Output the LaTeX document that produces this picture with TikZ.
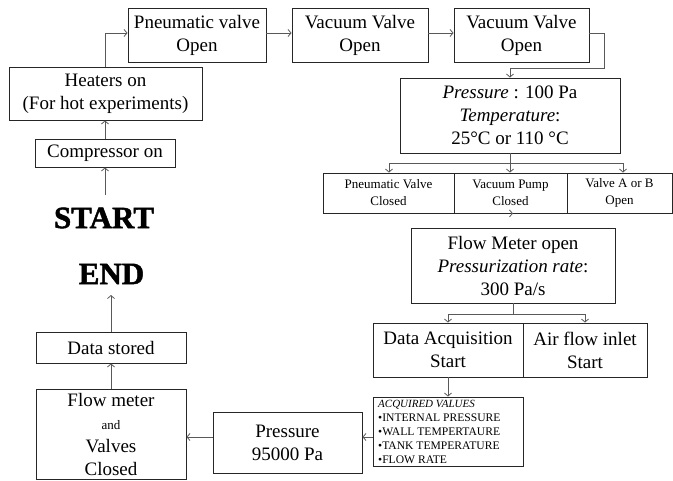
\documentclass[tikz,border=0pt]{standalone}
\usepackage{fontspec}
\setmainfont{Liberation Serif}
\newfontface\heavyface{Liberation Serif Bold}[FakeBold=1.6]
\usetikzlibrary{arrows.meta,calc}
\begin{document}
\begin{tikzpicture}[x=1pt,y=-1pt,
  box/.style={draw=black!85,line width=0.9pt,inner sep=0pt,align=center,minimum width=#1},
  big/.style={font=\fontsize{19}{23}\selectfont},
  mid/.style={font=\fontsize{13}{17}\selectfont},
  arr/.style={draw=black!65,line width=0.8pt,-{Straight Barb[length=3pt,width=7pt]}},
  ln/.style={draw=black!65,line width=0.8pt},
  title/.style={font=\fontsize{31}{31}\heavyface,inner sep=0pt}]
\useasboundingbox (0,0) rectangle (673,480);
% top row
\node[box=138pt,big,minimum height=54pt] (pv) at (197,35) {Pneumatic valve\\Open};
\node[box=136pt,big,minimum height=54pt] (vv1) at (360,35) {Vacuum Valve\\Open};
\node[box=135pt,big,minimum height=54pt] (vv2) at (521.5,35) {Vacuum Valve\\Open};
% left column
\node[box=193pt,big,minimum height=53pt] (heat) at (105.5,93.5) {Heaters on\\(For hot experiments)};
\node[box=140pt,big,minimum height=28pt] (comp) at (105,153) {Compressor on};
\node[title] (start) at (104,218) {START};
\node[title] (end) at (111.5,274) {END};
\node[box=150pt,big,minimum height=31pt] (ds) at (111,347.5) {Data stored};
\node[box=150pt,big,minimum height=90pt] (fmc) at (111,434) {Flow meter\\{\fontsize{13}{15}\selectfont and}\\Valves\\Closed};
\node[box=149pt,big,minimum height=61pt] (p95) at (287.5,442.5) {Pressure\\95000 Pa};
% right column
\node[box=220pt,big,minimum height=75pt] (press) at (510,115.5) {\textit{Pressure} : 100 Pa\\\textit{Temperature}:\\25°C or 110 °C};
\node[box=131pt,mid,minimum height=40pt] (pvc) at (388.5,193) {Pneumatic Valve\\Closed};
\node[box=113pt,mid,minimum height=40pt] (vpc) at (510.5,193) {Vacuum Pump\\Closed};
\node[box=105pt,mid,minimum height=40pt] (vab) at (619.5,193) {Valve A or B\\Open};
\node[box=204pt,big,minimum height=75pt] (fm) at (513,265.5) {Flow Meter open\\\textit{Pressurization rate}:\\300 Pa/s};
\node[box=150pt,big,minimum height=54pt] (da) at (448,350) {Data Acquisition\\Start};
\node[box=124pt,big,minimum height=54pt] (af) at (585,350) {Air flow inlet\\Start};
\node[box=150pt,minimum height=69pt] (acq) at (448,431.5) {};
\node[anchor=north west,inner sep=0pt,align=left,font=\fontsize{11.6}{13.9}\selectfont] (acqt) at (378,400)
  {{\fontsize{11}{13.9}\selectfont\textit{ACQUIRED VALUES}}\\•INTERNAL PRESSURE\\•WALL TEMPERTAURE\\•TANK TEMPERATURE\\•FLOW RATE};
% coordinates
\coordinate (c1) at (604,33);
\coordinate (c2) at (604,68);
\coordinate (c3) at (510,68);
\coordinate (s1) at (510,163);
\coordinate (s1l) at (389,163);
\coordinate (s1r) at (623,163);
\coordinate (s2) at (513,314);
\coordinate (s2l) at (448,314);
\coordinate (s2r) at (585,314);
\coordinate (a1) at (373,437);
\coordinate (startTop) at (105,195);
\coordinate (endBot) at (111,295);
% connectors
\draw[arr] (startTop) -- (comp.south -| startTop);
\draw[arr] (comp.north -| startTop) -- (heat.south -| startTop);
\draw[arr] (heat.north -| startTop) |- ([yshift=2pt]pv.west);
\draw[arr] ([yshift=2pt]pv.east) -- ([yshift=2pt]vv1.west);
\draw[arr] ([yshift=2pt]vv1.east) -- ([yshift=2pt]vv2.west);
\draw[arr] ([yshift=2pt]vv2.east) -- (c1) -- (c2) -- (c3) -- (press.north);
\draw[ln] (press.south) -- (s1);
\draw[ln] (s1l) -- (s1r);
\draw[arr] (s1l) -- (s1l |- pvc.north);
\draw[arr] (s1) -- (s1 |- vpc.north);
\draw[arr] (s1r) -- (s1r |- vab.north);
\draw[arr] (vpc.south) -- (vpc.south -| fm.north) ;
\draw[ln] (fm.south) -- (s2);
\draw[ln] (s2l) -- (s2r);
\draw[arr] (s2l) -- (s2l |- da.north);
\draw[arr] (s2r) -- (s2r |- af.north);
\draw[arr] (da.south) -- (acq.north);
\draw[arr] (a1) -- (a1 -| p95.east);
\draw[arr] (a1 -| p95.west) -- (a1 -| fmc.east);
\draw[arr] (fmc.north) -- (ds.south);
\draw[arr] (ds.north) -- (endBot);
\end{tikzpicture}
\end{document}
